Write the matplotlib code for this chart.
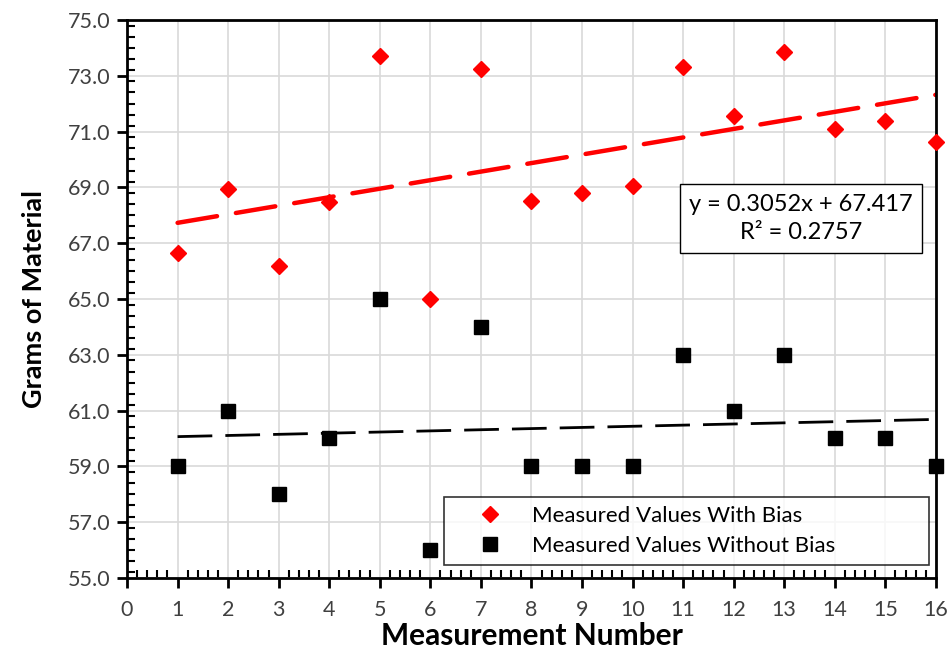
import numpy as np
import matplotlib
matplotlib.use("Agg")
import matplotlib.pyplot as plt
from matplotlib.ticker import MultipleLocator

plt.rcParams['font.family'] = ['Lato', 'DejaVu Sans']

measurement = [1, 2, 3, 4, 5, 6, 7, 8, 9, 10, 11, 12, 13, 14, 15, 16]
with_bias = [66.66, 68.93, 66.18, 68.47, 73.72, 64.99, 73.25, 68.50,
             68.79, 69.05, 73.32, 71.57, 73.84, 71.10, 71.37, 70.63]
without_bias = [59, 61, 58, 60, 65, 56, 64, 59, 59, 59, 63, 61, 63, 60, 60, 59]
eq_text = "y = 0.3052x + 67.417\nR² = 0.2757"

x = np.array(measurement)
fig = plt.figure(figsize=(9.53, 6.5), dpi=100)
ax = fig.add_axes([0.1333, 0.1108, 0.8487, 0.8585])

ax.grid(True, color='#d9d9d9', linewidth=1.2, zorder=0)

# trend lines
xl = np.array([x.min(), x.max()])
p_red = np.polyfit(x, with_bias, 1)
p_blk = np.polyfit(x, without_bias, 1)
ax.plot(xl, np.polyval(p_red, xl), color='red', lw=3.2, dashes=(9, 4.3),
        solid_capstyle='round', dash_capstyle='round', zorder=2)
ax.plot(xl, np.polyval(p_blk, xl), color='black', lw=2, dashes=(12.5, 4.7), zorder=2)

ax.plot(x, with_bias, 'D', color='red', markersize=8, zorder=3,
        label='Measured Values With Bias', clip_on=False)
ax.plot(x, without_bias, 's', color='black', markersize=10.5, zorder=3,
        label='Measured Values Without Bias', clip_on=False)

ax.set_xlim(0, 16)
ax.set_ylim(55, 75)
ax.xaxis.set_major_locator(MultipleLocator(1))
ax.xaxis.set_minor_locator(MultipleLocator(0.2))
ax.yaxis.set_major_locator(MultipleLocator(2))
ax.yaxis.set_minor_locator(MultipleLocator(0.4))
ax.set_yticks(np.arange(55, 75.1, 2))
ax.set_yticklabels([f"{v:.1f}" for v in np.arange(55, 75.1, 2)])
ax.tick_params(which='major', direction='out', length=7, width=2,
               labelsize=15.5, labelcolor='#404040')
ax.tick_params(axis='x', which='major', pad=9)
ax.tick_params(axis='y', which='major', pad=5)
ax.tick_params(which='minor', direction='in', length=6, width=1.5)
for s in ax.spines.values():
    s.set_linewidth(2)
    s.set_color('black')

ax.set_xlabel('Measurement Number', fontsize=21.5, fontweight='bold', labelpad=1)
ax.set_ylabel('Grams of Material', fontsize=19.5, fontweight='bold', labelpad=16)

ax.text(0.8335, 0.644, eq_text, transform=ax.transAxes, ha='center', va='center',
        fontsize=17, linespacing=1.45,
        bbox=dict(boxstyle='square,pad=0.4', fc='white', ec='black', lw=1))

leg = ax.legend(loc='lower left', bbox_to_anchor=(0.392, 0.0233, 0.599, 0.1),
                mode='expand', fontsize=16, frameon=True, fancybox=False,
                edgecolor='black', borderpad=0.4, handletextpad=0.25,
                handlelength=3.3, borderaxespad=0, labelspacing=0.45)
leg.get_frame().set_linewidth(1.2)

fig.savefig('out.png', dpi=100)
